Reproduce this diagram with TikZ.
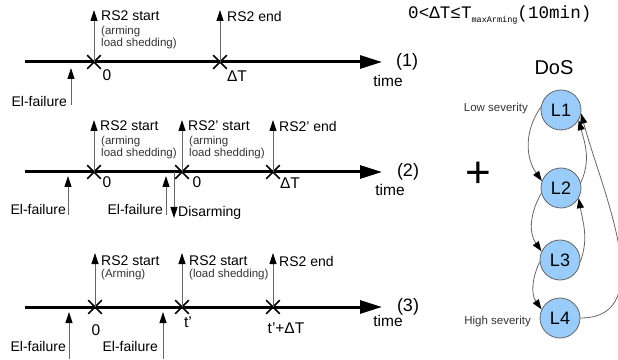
\documentclass[tikz,border=0pt]{standalone}
\usepackage{fontspec}
\setmainfont{Liberation Sans}
\newfontfamily\monofont{Liberation Mono}
\usetikzlibrary{arrows.meta,calc,shapes.misc}
\definecolor{StateClr}{rgb}{0.6,0.8,0.98}
\definecolor{EdgeClr}{rgb}{0.4,0.4,0.4}

\tikzset{
  timeline/.style={line width=3pt,-{Triangle[length=22pt,width=13pt]}},
  crossmk/.style={draw,cross out,line width=1.6pt,minimum size=12pt,inner sep=0pt},
  evt/.style={EdgeClr,line width=0.8pt,-{Triangle[length=11pt,width=7pt,color=black]}},
  lbl/.style={inner sep=0pt,font=\fontsize{14}{16}\selectfont},
  sublbl/.style={inner sep=0pt,align=left,text=black!80,font=\fontsize{11.5}{12}\selectfont},
  tick/.style={inner sep=0pt,font=\fontsize{15.5}{17}\selectfont},
  timelbl/.style={inner sep=0pt,font=\fontsize{15.5}{17}\selectfont},
  numlbl/.style={inner sep=0pt,font=\fontsize{18}{20}\selectfont},
  state/.style={circle,draw=EdgeClr,fill=StateClr,line width=0.8pt,minimum size=40pt,inner sep=0pt,font=\fontsize{18}{20}\selectfont},
  dosedge/.style={EdgeClr,line width=0.8pt,-{Triangle[length=10pt,width=7pt,color=black]}}
}

\begin{document}
\begin{tikzpicture}[x=1pt,y=1pt]
\useasboundingbox (0,0) rectangle (618,359);

\node[inner sep=0pt,anchor=west] (cond) at (408,344)
  {\monofont\fontsize{17.6}{17}\selectfont 0<ΔT≤T\raisebox{-3.5pt}{\fontsize{8.5}{8}\selectfont maxArming}(10min)};

% timeline (1)
\coordinate (s1) at (25,297);
\coordinate (e1) at (382,297);
\draw[timeline] (s1) -- (e1);
\node[crossmk] (x11) at (94,297) {};
\node[crossmk] (x12) at (220,297) {};
\coordinate (t11) at (94,349);
\coordinate (t12) at (220,349);
\coordinate (f11) at (71,254);
\coordinate (g11) at (71,291);
\draw[evt] (x11.center) -- (t11);
\draw[evt] (x12.center) -- (t12);
\draw[evt] (f11) -- (g11);
\node[lbl,anchor=west] (r11) at (101,343) {RS2 start};
\node[sublbl,anchor=north west] (a11) at (101,333) {(arming\\load shedding)};
\node[lbl,anchor=west] (r12) at (227,343) {RS2 end};
\node[tick] (z11) at (107,284) {0};
\node[tick] (z12) at (237,283) {ΔT};
\node[lbl,anchor=east] (el11) at (67,258) {El-failure};
\node[numlbl] (n1) at (407,297) {(1)};
\node[timelbl] (tm1) at (388,278) {time};

% timeline (2)
\coordinate (s2) at (25,187);
\coordinate (e2) at (382,187);
\draw[timeline] (s2) -- (e2);
\node[crossmk] (x21) at (94,187) {};
\node[crossmk] (x22) at (182,187) {};
\node[crossmk] (x23) at (273,187) {};
\coordinate (t21) at (94,239);
\coordinate (t22) at (182,239);
\coordinate (t23) at (273,239);
\coordinate (f21) at (68,144);
\coordinate (g21) at (68,183);
\coordinate (f22) at (166,144);
\coordinate (g22) at (166,183);
\coordinate (d2) at (174,187);
\coordinate (h2) at (174,141);
\draw[evt] (x21.center) -- (t21);
\draw[evt] (x22.center) -- (t22);
\draw[evt] (x23.center) -- (t23);
\draw[evt] (f21) -- (g21);
\draw[evt] (f22) -- (g22);
\draw[evt] (d2) -- (h2);
\node[lbl,anchor=west] (r21) at (100,233) {RS2 start};
\node[sublbl,anchor=north west] (a21) at (101,223) {(arming\\load shedding)};
\node[lbl,anchor=west] (r22) at (188,233) {RS2' start};
\node[sublbl,anchor=north west] (a22) at (189,223) {(arming\\load shedding)};
\node[lbl,anchor=west] (r23) at (279,233) {RS2' end};
\node[tick] (z21) at (107,177) {0};
\node[tick] (z22) at (197,177) {0};
\node[tick] (z23) at (290,176) {ΔT};
\node[lbl,anchor=east] (el21) at (66,150) {El-failure};
\node[lbl,anchor=east] (el22) at (163,150) {El-failure};
\node[lbl,anchor=west] (ds2) at (178,146) {Disarming};
\node[numlbl] (n2) at (408,187) {(2)};
\node[timelbl] (tm2) at (390,169) {time};

% timeline (3)
\coordinate (s3) at (25,52);
\coordinate (e3) at (382,52);
\draw[timeline] (s3) -- (e3);
\node[crossmk] (x31) at (95,52) {};
\node[crossmk] (x32) at (182,52) {};
\node[crossmk] (x33) at (273,52) {};
\coordinate (t31) at (95,106);
\coordinate (t32) at (182,106);
\coordinate (t33) at (273,106);
\coordinate (f31) at (69,0);
\coordinate (g31) at (69,47);
\coordinate (f32) at (163,0);
\coordinate (g32) at (163,47);
\draw[evt] (x31.center) -- (t31);
\draw[evt] (x32.center) -- (t32);
\draw[evt] (x33.center) -- (t33);
\draw[evt] (f31) -- (g31);
\draw[evt] (f32) -- (g32);
\node[lbl,anchor=west] (r31) at (101,98) {RS2 start};
\node[sublbl,anchor=west] (a31) at (101,84) {(Arming)};
\node[lbl,anchor=west] (r32) at (189,98) {RS2 start};
\node[sublbl,anchor=west] (a32) at (189,84) {(load shedding)};
\node[lbl,anchor=west] (r33) at (279,98) {RS2 end};
\node[tick] (z31) at (96,29) {0};
\node[tick] (z32) at (188,37) {t'};
\node[tick] (z33) at (286,31) {t'+ΔT};
\node[lbl,anchor=east] (el31) at (66,13) {El-failure};
\node[lbl,anchor=east] (el32) at (158,13) {El-failure};
\node[numlbl] (n3) at (408,52) {(3)};
\node[timelbl] (tm3) at (388,38) {time};

\node[inner sep=0pt,font=\fontsize{44}{44}\selectfont] (plus) at (478,184) {+};

% DoS levels
\node[inner sep=0pt,font=\fontsize{20}{22}\selectfont] (dos) at (554,291) {DoS};
\node[state] (L1) at (561,249) {L1};
\node[state] (L2) at (561,171) {L2};
\node[state] (L3) at (560,99) {L3};
\node[state] (L4) at (560,41) {L4};
\node[sublbl,anchor=east] (low) at (528,250) {Low severity};
\node[sublbl,anchor=east] (high) at (531,37) {High severity};

\draw[dosedge] (L1.172) to[out=235,in=125] (L2.160);
\draw[dosedge] (L2.195) to[out=240,in=125] (L3.155);
\draw[dosedge] (L3.185) to[out=245,in=125] (L4.155);
\draw[dosedge] (L2.15) to[out=65,in=-75] (L1.-30);
\draw[dosedge] (L3.-5) to[out=70,in=-80] (L2.-30);
\draw[dosedge] (L4.east) to[out=0,in=-75,looseness=1.0] (L1.-10);

\end{tikzpicture}
\end{document}
